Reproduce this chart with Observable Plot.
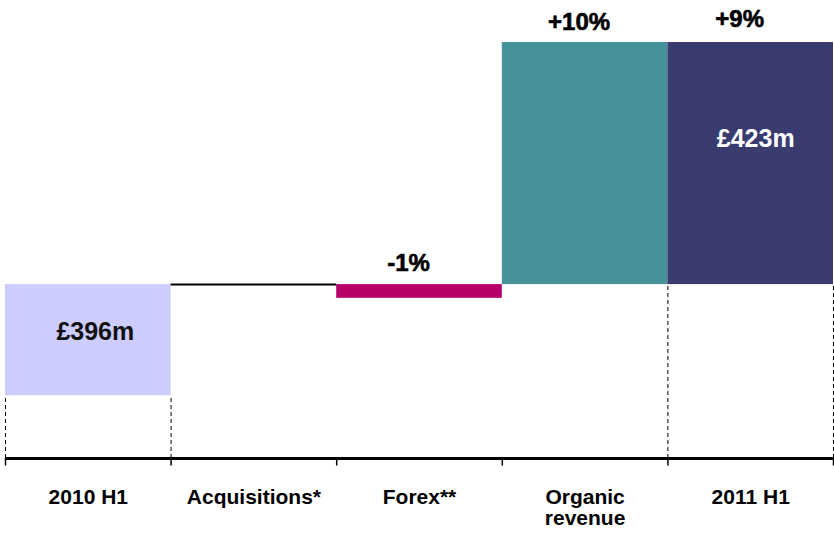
<!DOCTYPE html>
<html>
<head>
<meta charset="utf-8">
<script src="https://cdn.jsdelivr.net/npm/d3@7"></script>
<script src="https://cdn.jsdelivr.net/npm/@observablehq/plot@0.6"></script>
<style>
  html, body { margin: 0; padding: 0; background: #ffffff; }
  svg { display: block; }
</style>
</head>
<body>
<div id="chart"></div>
<script>
// Schematic waterfall (broken axis): positions are in the chart's own relative units
const categories = ["2010 H1", "Acquisitions*", "Forex**", "Organic\nrevenue", "2011 H1"];
const barFrom   = [15.1, 41.8, 41.8, 41.8, 41.8];
const barTo     = [41.8, 41.8, 38.5, 100, 100];
const barColors = ["#CCCCFF", "#000000", "#B8006A", "#46929A", "#3A3B6E"];
const pctLabels = ["", "", "-1%", "+10%", "+9%"];
const valueLabels = ["£396m", "", "", "", "£423m"];

const rows = categories.map((c, i) => ({
  i, name: c, y1: barFrom[i], y2: barTo[i], fill: barColors[i],
  pct: pctLabels[i], val: valueLabels[i],
  top: Math.max(barFrom[i], barTo[i]), mid: (barFrom[i] + barTo[i]) / 2
}));
const bars = rows.filter(d => d.y1 !== d.y2);
const flat = rows.filter(d => d.y1 === d.y2);
const totals = rows.filter(d => d.i === 0 || d.i === categories.length - 1);
const dashed = totals.flatMap(d => [{x: d.i, y: Math.min(d.y1, d.y2)}, {x: d.i + 1, y: Math.min(d.y1, d.y2)}]);
const boundaries = d3.range(categories.length + 1);

const font = "'Liberation Sans', Arial, sans-serif";

// per-label visual offsets (px)
const pctOffsets = {2: [-11, -21], 3: [-6, -20], 4: [-11, -23]};
const valOffsets = {0: [7, -8], 4: [5, -25]};

const pctMarks = rows.filter(d => d.pct).map(d => Plot.text([d], {
  x: r => r.i + 0.5, y: "top", text: "pct",
  dx: pctOffsets[d.i][0], dy: pctOffsets[d.i][1],
  fontSize: 24, fontWeight: "bold", fill: "#000", lineAnchor: "middle",
  stroke: "#000", strokeWidth: 0.6
}));
const valMarks = rows.filter(d => d.val).map(d => Plot.text([d], {
  x: r => r.i + 0.5, y: "mid", text: "val",
  dx: valOffsets[d.i][0], dy: valOffsets[d.i][1],
  fontSize: 25, fontWeight: "bold",
  fill: d.i === 0 ? "#111" : "#fff", lineAnchor: "middle"
}));

const chart = Plot.plot({
  width: 834,
  height: 533,
  marginLeft: 5,
  marginRight: 1,
  marginTop: 42,
  marginBottom: 75,
  style: {fontFamily: font, background: "#ffffff"},
  x: {domain: [0, categories.length], axis: null},
  y: {domain: [0, 100], axis: null},
  marks: [
    Plot.rectY(bars, {x1: "i", x2: d => d.i + 1, y1: "y1", y2: "y2", fill: "fill"}),
    Plot.ruleY(flat, {x1: "i", x2: d => d.i + 1, y: "y1", stroke: "#000", strokeWidth: 2}),
    Plot.ruleX(dashed, {x: "x", y1: 0, y2: "y", stroke: "#000", strokeWidth: 1, strokeDasharray: "4,3"}),
    Plot.ruleY([0], {stroke: "#000", strokeWidth: 3}),
    Plot.ruleX(boundaries, {y1: 0, y2: -1.8, stroke: "#000", strokeWidth: 1.5}),
    ...pctMarks,
    ...valMarks,
    Plot.axisX(categories.map((c, i) => i + 0.5), {
      tickFormat: v => categories[Math.floor(v)],
      tickSize: 0, tickPadding: 31, fontSize: 21, fontWeight: "bold",
      lineHeight: 1, fill: "#000", label: null
    })
  ]
});
document.getElementById("chart").appendChild(chart);
</script>
</body>
</html>
